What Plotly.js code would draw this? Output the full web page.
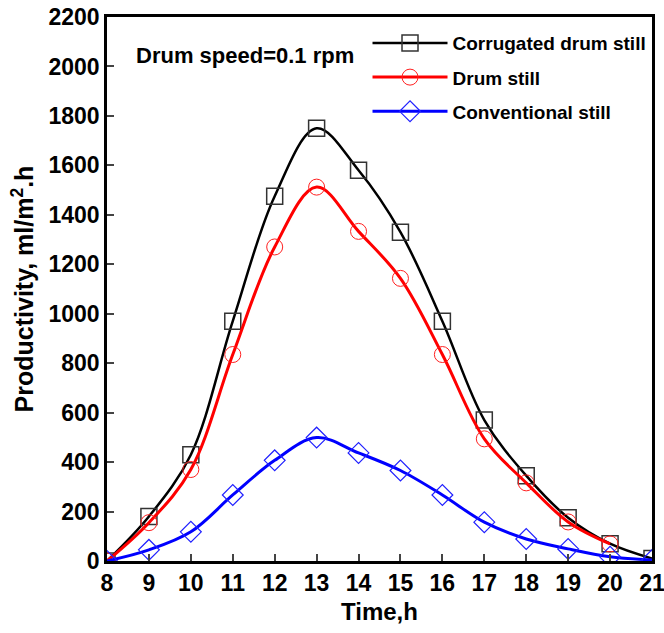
<!DOCTYPE html>
<html><head><meta charset="utf-8">
<script src="https://cdn.plot.ly/plotly-3.0.1.min.js"></script>
<style>body{margin:0;padding:0;background:#fff}</style>
</head><body>
<div id="chart" style="width:664px;height:633px"></div>
<script>
const hours = [8,9,10,11,12,13,14,15,16,17,18,19,20,21];
const corrugated = [0,180,430,970,1475,1750,1580,1330,970,570,345,175,70,10];
const drumHours = [8,9,10,11,12,13,14,15,16,17,18,19,20];
const drum = [0,155,370,835,1270,1512,1333,1143,835,494,316,158,69];
const conventional = [0,45,118,267,407,499,437,366,267,157,89,49,17,4];

const traces = [
  {x: hours, y: corrugated, name: 'Corrugated drum still', mode: 'lines+markers',
   legendgroup: 'a',
   line: {color: '#000', width: 2.5, shape: 'spline', smoothing: 1},
   marker: {symbol: 'square-open', size: 16, color: '#333', line: {width: 1.5}}},
  {x: drumHours, y: drum, name: 'Drum still', mode: 'lines+markers',
   legendgroup: 'b',
   line: {color: '#ff0000', width: 3, shape: 'spline', smoothing: 1},
   marker: {symbol: 'circle-open', size: 16, color: '#ff2020', line: {width: 1}}},
  {x: hours, y: conventional, name: 'Conventional still', mode: 'lines+markers',
   legendgroup: 'c',
   line: {color: '#0000ff', width: 3, shape: 'spline', smoothing: 1},
   marker: {symbol: 'diamond-open', size: 16, color: '#2020ff', line: {width: 1.2}}}
];

const tickFont = {family: 'Arial, Liberation Sans, sans-serif', size: 23, color: '#000', weight: 'bold'};
const titleFontBase = {family: 'Arial, Liberation Sans, sans-serif', color: '#000', weight: 'bold'};

const layout = {
  width: 664, height: 633,
  margin: {l: 107, r: 12, t: 17, b: 72},
  paper_bgcolor: '#fff', plot_bgcolor: '#fff',
  showlegend: true,
  legend: {x: 0.478, y: 0.987, xanchor: 'left', yanchor: 'top',
    traceorder: 'grouped', tracegroupgap: 6.5, itemwidth: 75,
    bgcolor: 'rgba(0,0,0,0)',
    font: {family: 'Liberation Sans Narrow, Arial Narrow, sans-serif', size: 19, color: '#000', weight: 'bold'}},
  xaxis: {range: [8, 21], tickvals: hours, ticks: 'inside', ticklen: 7, tickwidth: 2,
    showline: true, linewidth: 2.5, linecolor: '#000', mirror: true, automargin: false,
    ticklabeloverflow: 'allow',
    showgrid: false, zeroline: false, tickfont: tickFont,
    title: {text: 'Time,h', font: Object.assign({size: 24}, titleFontBase), standoff: 8}},
  yaxis: {range: [0, 2200], dtick: 200, ticks: 'inside', ticklen: 7, tickwidth: 2,
    showline: true, linewidth: 2.5, linecolor: '#000', mirror: true, automargin: false,
    ticklabeloverflow: 'allow',
    showgrid: false, zeroline: false, tickfont: tickFont,
    title: {text: 'Productivity, ml/m<sup>2</sup>.h', font: Object.assign({size: 25}, titleFontBase), standoff: 8}},
  annotations: [{
    text: 'Drum speed=0.1 rpm', xref: 'paper', yref: 'paper', x: 0.05, y: 0.93,
    xanchor: 'left', yanchor: 'middle', showarrow: false,
    font: Object.assign({size: 22}, titleFontBase)
  }]
};

Plotly.newPlot('chart', traces, layout, {displayModeBar: false});
</script>
</body></html>
